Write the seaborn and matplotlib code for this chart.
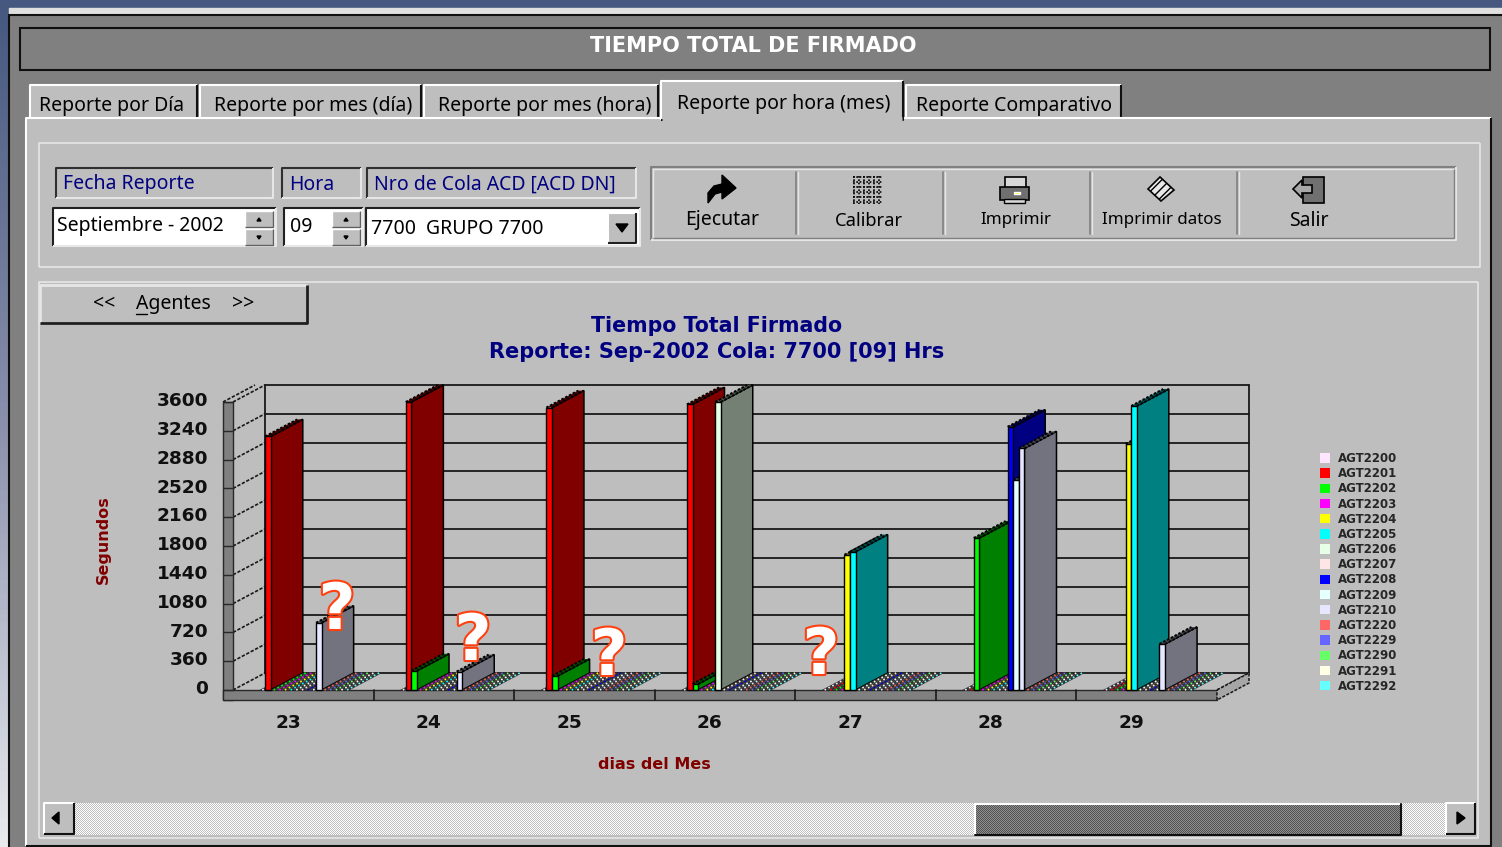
import numpy as np
import pandas as pd
import matplotlib
matplotlib.use("Agg")
import matplotlib.pyplot as plt
import matplotlib.patheffects as pe
from matplotlib.colors import LinearSegmentedColormap, ListedColormap, to_rgb
from matplotlib.patches import Patch, Polygon, Rectangle
from matplotlib.transforms import ScaledTranslation
import seaborn as sns

sns.set_theme(style="white")
plt.rcParams['font.family'] = ['DejaVu Sans']

W, H = 1502, 847
PANEL = "#bebebe"
NAVY = "#000080"
MAROON = "#800000"

days = ["23", "24", "25", "26", "27", "28", "29"]
agents = ["AGT2200", "AGT2201", "AGT2202", "AGT2203", "AGT2204", "AGT2205", "AGT2206", "AGT2207",
          "AGT2208", "AGT2209", "AGT2210", "AGT2220", "AGT2229", "AGT2290", "AGT2291", "AGT2292"]
agent_colors = ["#ffe6ff", "#ff0000", "#00ff00", "#ff00ff", "#ffff00", "#00ffff", "#e6ffe6", "#ffe6e6",
                "#0000ff", "#e6ffff", "#e6e6ff", "#ff6666", "#6666ff", "#66ff66", "#ffffe6", "#66ffff"]

# seconds signed per day, only agents that have something
agt2201 = [3170, 3600, 3530, 3570, 0, 0, 0]
agt2202 = [0, 240, 175, 75, 0, 1900, 0]
agt2204 = [0, 0, 0, 0, 1690, 0, 3075]
agt2205 = [0, 0, 0, 0, 1730, 0, 3550]
agt2206 = [0, 0, 0, 3600, 0, 0, 0]
agt2208 = [0, 0, 0, 0, 0, 3290, 0]
agt2209 = [0, 0, 0, 0, 0, 2625, 0]
agt2210 = [840, 230, 0, 0, 0, 3020, 575]
signed = {"AGT2201": agt2201, "AGT2202": agt2202, "AGT2204": agt2204, "AGT2205": agt2205,
          "AGT2206": agt2206, "AGT2208": agt2208, "AGT2209": agt2209, "AGT2210": agt2210}

y_ticks = [0, 360, 720, 1080, 1440, 1800, 2160, 2520, 2880, 3240, 3600]

tabs = ["Reporte por Día", "Reporte por mes (día)", "Reporte por mes (hora)", "Reporte por hora (mes)", "Reporte Comparativo"]
tools = ["Ejecutar", "Calibrar", "Imprimir", "Imprimir datos", "Salir"]


def bevel(ax, x0, y0, x1, y1, face=PANEL, tl="white", br="#404040", lw=1.5, z=2):
    ax.add_patch(Rectangle((x0, y0), x1 - x0, y1 - y0, facecolor=face, edgecolor="none", zorder=z))
    ax.plot([x0, x0, x1], [y1, y0, y0], color=tl, lw=lw, zorder=z + 0.1, solid_capstyle="butt")
    ax.plot([x0, x1, x1], [y1, y1, y0], color=br, lw=lw, zorder=z + 0.1, solid_capstyle="butt")


def label(ax, x, y, text, color="black", size=14, ha="left", **kw):
    ax.text(x, y + 1.5, text, color=color, fontsize=size, ha=ha, va="center", family="Noto Sans", zorder=6, **kw)


def dither(ax, x0, y0, x1, y1, c1, c2, z):
    check = np.indices((int(y1 - y0), int(x1 - x0))).sum(axis=0) % 2
    ax.imshow(check, cmap=ListedColormap([c1, c2]), extent=(x0, x1, y1, y0), interpolation="nearest",
              aspect="auto", zorder=z)


def spinner(ax, x0, x1, y0, y1):
    mid = (y0 + y1) / 2
    bevel(ax, x0, y0, x1, mid - 1, tl="white", br="#606060", lw=1, z=4)
    bevel(ax, x0, mid + 1, x1, y1, tl="white", br="#606060", lw=1, z=4)
    c = (x0 + x1) / 2
    ax.add_patch(Polygon([(c - 2, mid - 7), (c + 2, mid - 7), (c, mid - 10)], color="black", zorder=5))
    ax.add_patch(Polygon([(c - 2, mid + 8), (c + 2, mid + 8), (c, mid + 11)], color="black", zorder=5))


def draw_icons(ax):
    # Ejecutar
    ax.add_patch(Polygon([(708, 203), (708, 193), (714, 186), (722, 184), (722, 175), (736, 188),
                          (722, 199), (722, 192), (715, 194)], color="black", zorder=5))
    # Calibrar
    for x in np.arange(854, 884, 5):
        ax.plot([x, x], [176, 204], color="black", lw=1.2, ls=(0, (1, 1)), zorder=5)
    for y in np.arange(177, 206, 5):
        ax.plot([853, 883], [y, y], color="black", lw=1.2, ls=(0, (1, 1)), zorder=5)
    # Imprimir
    ax.add_patch(Rectangle((1005, 177), 21, 11, facecolor="#d8d8d8", edgecolor="black", lw=1.2, zorder=5))
    ax.add_patch(Rectangle((1000, 187), 29, 13, facecolor="#707070", edgecolor="black", lw=1.2, zorder=5))
    ax.add_patch(Rectangle((1004, 199), 21, 4, facecolor="#d8d8d8", edgecolor="black", lw=1.0, zorder=5))
    ax.add_patch(Rectangle((1014, 192), 6, 2, facecolor="#ffff00", zorder=6))
    # Imprimir datos
    ax.add_patch(Polygon([(1160, 177), (1174, 190), (1161, 201), (1148, 189)],
                         facecolor="#e8e8e8", edgecolor="black", lw=1.2, hatch="////", zorder=5))
    # Salir
    ax.add_patch(Rectangle((1303, 177), 21, 26, facecolor="#707070", edgecolor="black", lw=1.2, zorder=5))
    ax.add_patch(Polygon([(1293, 189), (1302, 180), (1302, 185), (1312, 185), (1312, 193), (1302, 193), (1302, 198)],
                         facecolor="#a8a8a8", edgecolor="black", lw=1.2, zorder=6))


def draw_window(ax):
    cmap = LinearSegmentedColormap.from_list("desk", ["#45587f", "#8a90ac", "#e8eaee"])
    ax.imshow(np.linspace(0, 1, 200)[:, None], cmap=cmap, extent=(0, 10, H, 0), aspect="auto", zorder=0)
    ax.add_patch(Rectangle((0, 0), W, 8, color="#46587f", zorder=0.5))
    ax.add_patch(Rectangle((9, 8), W, 6, color="#e0e0e0", zorder=1))
    ax.add_patch(Rectangle((9, 15), W, H, facecolor="#808080", edgecolor="#101010", lw=1.5, zorder=1))

    # title bar
    ax.add_patch(Rectangle((20, 28), 1470, 42, facecolor="#808080", edgecolor="#101010", lw=1.5, zorder=2))
    ax.text(753, 46.5, "TIEMPO TOTAL DE FIRMADO", color="white", fontsize=15, fontweight="bold",
            ha="center", va="center", zorder=6)

    # tabs
    tab_x = [(30, 197), (200, 421), (424, 658), (660, 904), (906, 1121)]
    tab_c = [112, 313, 545, 784, 1014]
    for i, (text, (x0, x1), xc) in enumerate(zip(tabs, tab_x, tab_c)):
        if i != 3:
            bevel(ax, x0, 85, x1, 122, br="#101010", z=2)
        label(ax, xc, 103 if i == 3 else 105, text, ha="center")
    bevel(ax, 26, 118, 1491, 846, br="#101010", z=3)
    bevel(ax, 661, 81, 903, 120, br="#101010", z=3.2)
    ax.plot([662, 902], [119.5, 119.5], color=PANEL, lw=3.5, zorder=3.5, solid_capstyle="butt")

    # controls
    bevel(ax, 39, 143, 1480, 267, tl="#e6e6e6", br="#e6e6e6", lw=1.2, z=3.3)
    for x0, x1, text in [(56, 273, "Fecha Reporte"), (282, 361, "Hora"), (367, 636, "Nro de Cola ACD [ACD DN]")]:
        bevel(ax, x0, 168, x1, 198, tl="#303030", br="#e6e6e6", z=3.4)
        label(ax, x0 + 7, 183, text, color=NAVY)
    for x0, x1 in [(53, 276), (284, 363), (366, 640)]:
        bevel(ax, x0, 208, x1, 246, face="white", tl="#202020", br="#e8e8e8", z=3.4)
    label(ax, 57, 225, "Septiembre - 2002")
    label(ax, 290, 225, "09")
    label(ax, 371, 227, "7700  GRUPO 7700")
    spinner(ax, 245, 273, 211, 245)
    spinner(ax, 332, 360, 211, 245)
    bevel(ax, 608, 213, 636, 243, tl="white", br="#202020", z=4)
    ax.add_patch(Polygon([(616, 224), (628, 224), (622, 232)], color="black", zorder=5))

    # toolbar
    bevel(ax, 651, 167, 1456, 240, tl="#808080", br="#e6e6e6", z=3.4)
    bevel(ax, 653, 169, 1454, 238, tl="#e6e6e6", br="#808080", lw=1, z=3.5)
    for x in [796, 943, 1090, 1237]:
        ax.plot([x, x], [172, 234], color="#808080", lw=1.2, zorder=4)
        ax.plot([x + 1.5, x + 1.5], [172, 234], color="#e6e6e6", lw=1.0, zorder=4)
    for x, text, size in zip([722, 869, 1016, 1162, 1309], tools, [14, 13.2, 12.2, 12.2, 14]):
        label(ax, x, 219, text, ha="center", size=size)
    draw_icons(ax)

    # chart frame and pager
    bevel(ax, 39, 282, 1478, 838, tl="#e6e6e6", br="#e6e6e6", lw=1.2, z=3.3)
    bevel(ax, 40, 285, 307, 323, tl="#e6e6e6", br="#202020", lw=2, z=3.5)
    for x, text in [(104, "<<"), (173, "Agentes"), (243, ">>")]:
        label(ax, x, 302, text, ha="center")
    ax.plot([136, 147], [314, 314], color="black", lw=1, zorder=6)

    # scrollbar
    dither(ax, 74, 803, 1446, 835, "white", PANEL, 3.5)
    dither(ax, 975, 805, 1401, 835, "#505050", "#909090", 3.6)
    ax.plot([975, 975, 1401], [835, 804, 804], color="white", lw=1.5, zorder=3.7)
    ax.plot([975, 1401, 1401], [835, 835, 804], color="#101010", lw=1.5, zorder=3.7)
    bevel(ax, 44, 803, 74, 834, tl="white", br="#101010", lw=1.5, z=3.6)
    bevel(ax, 1446, 803, 1475, 834, tl="white", br="#101010", lw=1.5, z=3.6)
    ax.add_patch(Polygon([(52, 818), (59, 812), (59, 824)], color="black", zorder=5))
    ax.add_patch(Polygon([(1465, 818), (1457, 812), (1457, 824)], color="black", zorder=5))


def draw_shell(ax, dx, dy, slab_x, slab_y):
    # back wall, side wall and floor slab of the fake 3d box
    x0, x1 = ax.get_xlim()
    y1 = y_ticks[-1]
    line = dict(color="#181818", lw=1.3, clip_on=False, zorder=1)
    dash = dict(color="#181818", lw=1.2, ls=(0, (2, 1)), clip_on=False, zorder=1)
    for v in y_ticks:
        ax.plot([x0 + dx, x1 + dx], [v + dy, v + dy], **line)
        ax.plot([x0, x0 + dx], [v, v + dy], **dash)
    ax.plot([x0 + dx, x0 + dx], [dy, y1 + dy], **line)
    ax.plot([x1 + dx, x1 + dx], [dy, y1 + dy], **line)
    ax.plot([x1, x1 + dx], [0, dy], **dash)
    ax.plot([x0 - slab_x, x0 - slab_x + dx], [y1, y1 + dy], **dash)

    edge = dict(edgecolor="#282828", lw=1.0, clip_on=False, zorder=1.5)
    ax.add_patch(Rectangle((x0 - slab_x, -slab_y), slab_x, y1 + slab_y, facecolor="#808080", **edge))
    ax.add_patch(Rectangle((x0 - slab_x, -slab_y), x1 - x0 + slab_x, slab_y, facecolor="#808080", **edge))
    ax.add_patch(Polygon([(x1, 0), (x1 + dx, dy), (x1 + dx, dy - slab_y), (x1, -slab_y)],
                         facecolor="#a6a6a6", edgecolor="#181818", lw=1.1, ls=(0, (2, 1)), clip_on=False, zorder=1.5))
    for v in y_ticks:
        ax.plot([x0 - slab_x, x0], [v, v], color="#282828", lw=1.0, clip_on=False, zorder=1.6)
    for i in range(1, len(days)):
        ax.plot([x0 + i * (x1 - x0) / len(days)] * 2, [-slab_y, 0], color="#181818", lw=1.2, clip_on=False, zorder=2)


def add_depth(ax, dx, dy):
    bars = sorted(ax.patches, key=lambda b: b.get_x())
    for i, bar in enumerate(bars):
        z = 3 + i * 0.01
        left, w, h = bar.get_x(), bar.get_width(), bar.get_height()
        right = left + w
        rgb = np.array(to_rgb(bar.get_facecolor()))
        dark = rgb * 0.5
        bar.set_zorder(z + 0.005)
        bar.set_clip_on(False)
        teeth = dict(color="black", lw=1.4, ls=(0, (1.3, 0.9)), clip_on=False, zorder=z + 0.004)
        if h > 0:
            ax.add_patch(Polygon([(right, 0), (right + dx, dy), (right + dx, h + dy), (right, h)],
                                 facecolor=dark, edgecolor="black", lw=1.1, clip_on=False, zorder=z))
            ax.add_patch(Polygon([(left, h), (left + dx, h + dy), (right + dx, h + dy), (right, h)],
                                 facecolor=dark * 0.6, edgecolor="none", clip_on=False, zorder=z + 0.002))
            ax.plot([left, left + dx], [h, h + dy], **teeth)
            ax.plot([right, right + dx], [h, h + dy], **teeth)
        else:
            # agents with no time leave a flat dotted strip on the floor
            ax.add_patch(Polygon([(left, 0), (left + dx, dy), (right + dx, dy), (right, 0)],
                                 facecolor="#303030", edgecolor="none", clip_on=False, zorder=z))
            mid = (left + right) / 2
            ax.plot([mid, mid + dx], [0, dy], color=rgb, lw=1.2, ls=(0, (1, 1.6)), clip_on=False, zorder=z + 0.004)
            bar.set_visible(False)


def main():
    fig = plt.figure(figsize=(W / 100, H / 100), dpi=100, facecolor="#808080")

    ui = fig.add_axes([0, 0, 1, 1], zorder=0)
    draw_window(ui)
    ui.set_xlim(0, W)
    ui.set_ylim(H, 0)
    ui.axis("off")

    rows = []
    for agent in agents:
        vals = signed.get(agent, [0] * len(days))
        for day, v in zip(days, vals):
            rows.append({"day": day, "agent": agent, "seconds": v})
    df = pd.DataFrame(rows)

    px_left, px_right, px_base, px_top = 233, 1217, 690, 402
    ax = fig.add_axes([px_left / W, 1 - px_base / H, (px_right - px_left) / W, (px_base - px_top) / H], zorder=1)
    ax.patch.set_alpha(0)

    sns.barplot(data=df, x="day", y="seconds", hue="agent", order=days, hue_order=agents,
                palette=agent_colors, saturation=1, width=0.643, errorbar=None,
                edgecolor="black", linewidth=1.0, legend=False, ax=ax)
    sns.despine(ax=ax, left=True, bottom=True)

    ax.set_xlim(-0.51, -0.51 + len(days))
    ax.set_ylim(0, y_ticks[-1])
    x_per_px = len(days) / (px_right - px_left)
    y_per_px = y_ticks[-1] / (px_base - px_top)
    dx, dy = 32 * x_per_px, 17 * y_per_px

    add_depth(ax, dx, dy)
    draw_shell(ax, dx, dy, 10 * x_per_px, 10 * y_per_px)

    tick_font = dict(fontsize=13.3, fontweight="bold", color="#101010")
    ax.set_yticks(y_ticks, [str(v) for v in y_ticks], **tick_font)
    ax.set_xticks(np.arange(len(days)) - 0.119, days, **tick_font)
    ax.tick_params(axis="y", length=0, pad=18)
    ax.tick_params(axis="x", length=0, pad=17.5)
    lift = ScaledTranslation(0, 2 / 72, fig.dpi_scale_trans)
    for t in ax.get_yticklabels():
        t.set_transform(t.get_transform() + lift)

    ax.set_xlabel("dias del Mes", color=MAROON, fontsize=11.5, fontweight="bold")
    ax.xaxis.set_label_coords((654 - px_left) / (px_right - px_left), -(764 - px_base) / (px_base - px_top), )
    ax.xaxis.label.set_va("center")
    ax.set_ylabel("Segundos", color=MAROON, fontsize=11.5, fontweight="bold")
    ax.yaxis.set_label_coords((103 - px_left) / (px_right - px_left), (px_base - 540) / (px_base - px_top))
    ax.yaxis.label.set_va("center")

    fig.text(717 / W, 1 - 326 / H, "Tiempo Total Firmado", color=NAVY, fontsize=14.8, fontweight="bold",
             ha="center", va="center", zorder=5)
    fig.text(717 / W, 1 - 352 / H, "Reporte: Sep-2002 Cola: 7700 [09] Hrs", color=NAVY, fontsize=15,
             fontweight="bold", ha="center", va="center", zorder=5)

    handles = [Patch(facecolor=c, edgecolor="none", label=a) for a, c in zip(agents, agent_colors)]
    ax.legend(handles=handles, loc="upper left", frameon=False, prop=dict(size=8.5, weight="bold"),
              bbox_to_anchor=((1320 - px_left) / (px_right - px_left), (px_base - 452) / (px_base - px_top)),
              handlelength=0.85, handleheight=0.85, handletextpad=0.68, labelspacing=0.185, borderpad=0, borderaxespad=0)

    # hand-drawn question marks on top of the screenshot
    over = fig.add_axes([0, 0, 1, 1], zorder=5)
    over.set_xlim(0, W)
    over.set_ylim(H, 0)
    over.axis("off")
    for x, y in [(337, 611), (473, 642), (609, 657), (821, 656)]:
        over.text(x, y, "?", color="white", fontsize=46, fontweight="bold", ha="center", va="center",
                  path_effects=[pe.withStroke(linewidth=3, foreground="#ff4010")])

    fig.savefig("out.png", dpi=100, facecolor=fig.get_facecolor())
    plt.close(fig)


if __name__ == "__main__":
    main()
